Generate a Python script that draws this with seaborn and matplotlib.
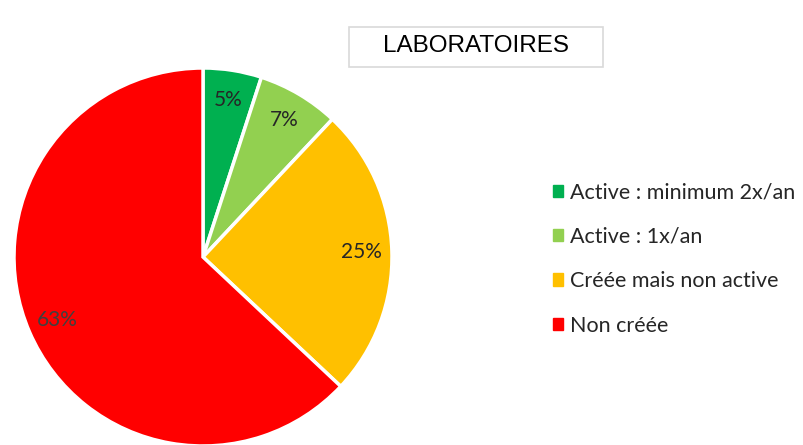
import matplotlib
matplotlib.use("Agg")
import matplotlib.pyplot as plt
import seaborn as sns
from matplotlib.patches import Patch, Rectangle

categories = ["Active : minimum 2x/an", "Active : 1x/an", "Créée mais non active", "Non créée"]
values = [5, 7, 25, 63]
colors = ["#00B050", "#92D050", "#FFC000", "#FF0000"]
title = "LABORATOIRES"

sns.set_theme(style="white")
plt.rcParams['font.family'] = ['Lato', 'DejaVu Sans']

W, H = 804, 445
fig = plt.figure(figsize=(W / 100, H / 100), dpi=100)
cx, cy, r = 203, 257, 189
ax = fig.add_axes([(cx - r) / W, (H - cy - r) / H, 2 * r / W, 2 * r / H])

wedges, texts, autotexts = ax.pie(
    values, colors=colors, startangle=90, counterclock=False,
    autopct=lambda p: f"{p:.0f}%", pctdistance=0.84,
    wedgeprops=dict(edgecolor="white", linewidth=2.5),
    textprops=dict(fontsize=15, color="#262626"),
)
autotexts[3].set_color("#404040")
ax.set_xlim(-1, 1)
ax.set_ylim(-1, 1)
ax.set_aspect("equal")
ax.axis("off")

# Title box
fig.add_artist(Rectangle((349 / W, 1 - 67 / H), 254 / W, 40 / H, transform=fig.transFigure,
                         facecolor="white", edgecolor="#D9D9D9", linewidth=1.2))
fig.text(476 / W, 1 - 46 / H, title, ha="center", va="center",
         fontsize=17.5, family=['Liberation Sans'], color="#000000")

handles = [Patch(facecolor=c, edgecolor=c) for c in colors]
leg = fig.legend(handles, categories, loc="upper left", bbox_to_anchor=(544 / W, 1 - 174 / H),
                 frameon=False, fontsize=15.5, handlelength=0.5, handleheight=0.5,
                 handletextpad=0.3, labelspacing=1.13, borderaxespad=0)
for t in leg.get_texts():
    t.set_color("#262626")

fig.savefig("out.png", dpi=100)
